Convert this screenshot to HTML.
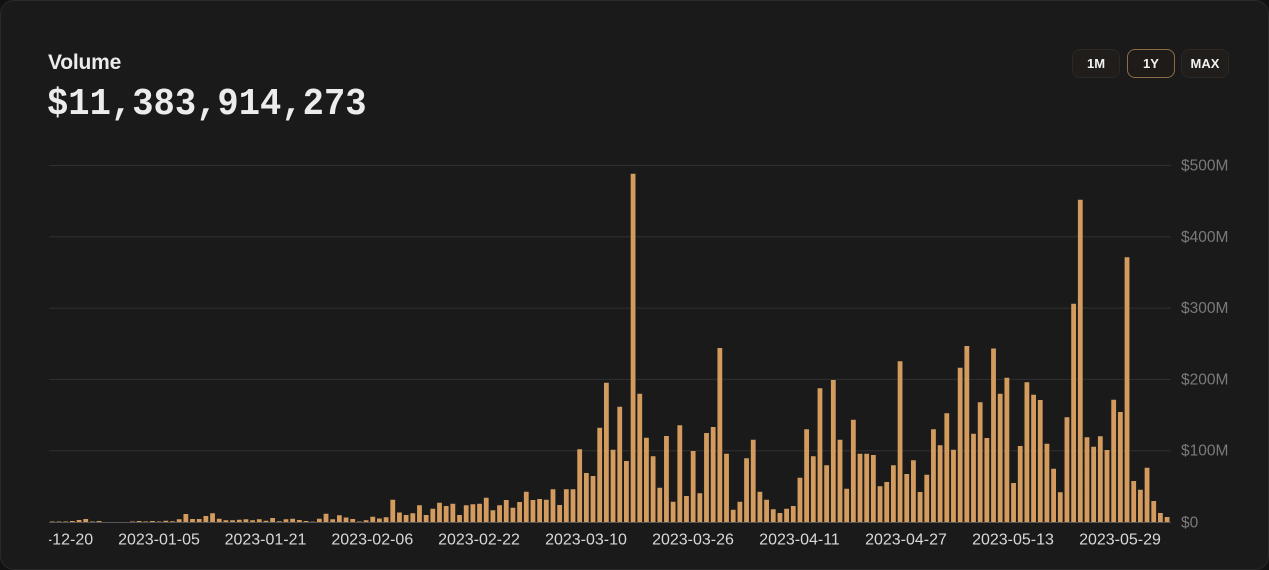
<!DOCTYPE html>
<html>
<head>
<meta charset="utf-8">
<style>
html,body{margin:0;padding:0;background:#121212;}
body{width:1269px;height:570px;overflow:hidden;position:relative;font-family:"Liberation Sans",sans-serif;}
.card{position:absolute;left:0;top:0;width:1267px;height:568px;background:#1a1a1a;border:1px solid #2a2a2a;border-radius:14px;overflow:hidden;}
.title{position:absolute;left:47px;top:48px;font-size:21px;font-weight:bold;color:#ececec;line-height:28px;letter-spacing:-0.2px;}
.value{position:absolute;left:46px;top:84px;font-family:"Liberation Mono",monospace;font-size:35.5px;font-weight:bold;color:#ececec;line-height:42px;transform:scaleY(1.08);transform-origin:left bottom;}
.btn{position:absolute;top:48px;width:46px;height:27px;border:1px solid #2c2824;background:#201d1a;border-radius:8px;color:#f2f2f2;font-size:13px;font-weight:bold;text-align:center;line-height:27px;}
.btn.active{border-color:#8c6d48;background:#1e1b18;}
svg{position:absolute;left:0;top:0;}
</style>
</head>
<body>
<div class="card">
<div class="title">Volume</div>
<div class="value">$11,383,914,273</div>
<div class="btn" style="left:1071px;">1M</div>
<div class="btn active" style="left:1126px;">1Y</div>
<div class="btn" style="left:1180px;">MAX</div>
<svg width="1269" height="570" viewBox="0 0 1269 570">
<defs><clipPath id="xc"><rect x="48" y="525" width="1140" height="40"/></clipPath></defs>
<g stroke="#303030" stroke-width="1">
<line x1="48" y1="164.5" x2="1170" y2="164.5"/>
<line x1="48" y1="235.8" x2="1170" y2="235.8"/>
<line x1="48" y1="307.1" x2="1170" y2="307.1"/>
<line x1="48" y1="378.4" x2="1170" y2="378.4"/>
<line x1="48" y1="449.7" x2="1170" y2="449.7"/>
</g>
<g font-family="Liberation Sans, sans-serif" font-size="15.5" fill="#7a7a7a">
<text x="1180" y="169.5">$500M</text>
<text x="1180" y="240.8">$400M</text>
<text x="1180" y="312.1">$300M</text>
<text x="1180" y="383.4">$200M</text>
<text x="1180" y="454.7">$100M</text>
<text x="1180" y="526.5">$0</text>
</g>
<path fill="#d39c5e" d="M48.95 521
v-.5h4.8v.5m1.875 0 v-.5h4.8v.5m1.875 0 v-.5h4.8v.5m1.875 0 v-1h4.8v1m1.875 0 v-2h4.8v2m1.875 0 v-3h4.8v3m1.875 0 v-.5h4.8v.5m1.875 0 v-1h4.8v1m1.875 0
m26.7 0
v-.5h4.8v.5m1.875 0 v-1h4.8v1m1.875 0 v-.5h4.8v.5m1.875 0 v-1h4.8v1m1.875 0 v-.5h4.8v.5m1.875 0 v-1.3h4.8v1.3m1.875 0 v-.7h4.8v.7m1.875 0 v-2.7h4.8v2.7m1.875 0
v-8h4.8v8m1.875 0 v-3h4.8v3m1.875 0 v-3h4.8v3m1.875 0 v-6h4.8v6m1.875 0 v-8.7h4.8v8.7m1.875 0 v-3.3h4.8v3.3m1.875 0 v-1.7h4.8v1.7m1.875 0 v-1.7h4.8v1.7m1.875 0
v-2.3h4.8v2.3m1.875 0 v-2.7h4.8v2.7m1.875 0 v-1.7h4.8v1.7m1.875 0 v-2.7h4.8v2.7m1.875 0 v-1.3h4.8v1.3m1.875 0 v-4h4.8v4m1.875 0 v-.7h4.8v.7m1.875 0 v-2.7h4.8v2.7m1.875 0
v-3.3h4.8v3.3m1.875 0 v-2h4.8v2m1.875 0 v-1h4.8v1m1.875 0 v-.4h4.8v.4m1.875 0 v-3.3h4.8v3.3m1.875 0 v-8.3h4.8v8.3m1.875 0 v-2.7h4.8v2.7m1.875 0 v-6.7h4.8v6.7m1.875 0
v-4.5h4.8v4.5m1.875 0 v-3h4.8v3m1.875 0 v-.5h4.8v.5m1.875 0 v-1.7h4.8v1.7m1.875 0 v-5.2h4.8v5.2m1.875 0 v-3.5h4.8v3.5m1.875 0 v-4.7h4.8v4.7m1.875 0 v-22.3h4.8v22.3m1.875 0
v-9.5h4.8v9.5m1.875 0 v-7h4.8v7m1.875 0 v-8.8h4.8v8.8m1.875 0 v-16.7h4.8v16.7m1.875 0 v-7h4.8v7m1.875 0 v-13.3h4.8v13.3m1.875 0 v-19.3h4.8v19.3m1.875 0 v-16h4.8v16m1.875 0
v-18.3h4.8v18.3m1.875 0 v-7h4.8v7m1.875 0 v-16.7h4.8v16.7m1.875 0 v-17.7h4.8v17.7m1.875 0 v-18.3h4.8v18.3m1.875 0 v-24.3h4.8v24.3m1.875 0 v-11.7h4.8v11.7m1.875 0 v-16.7h4.8v16.7m1.875 0
v-22h4.8v22m1.875 0 v-14.3h4.8v14.3m1.875 0 v-20h4.8v20m1.875 0 v-30.3h4.8v30.3m1.875 0 v-22h4.8v22m1.875 0 v-23h4.8v23m1.875 0 v-22.2h4.8v22.2m1.875 0 v-32.7h4.8v32.7m1.875 0
v-17h4.8v17m1.875 0 v-32.7h4.8v32.7m1.875 0 v-32.7h4.8v32.7m1.875 0 v-72.7h4.8v72.7m1.875 0 v-49h4.8v49m1.875 0 v-46h4.8v46m1.875 0 v-94.3h4.8v94.3m1.875 0 v-139.3h4.8v139.3m1.875 0
v-72.3h4.8v72.3m1.875 0 v-115.3h4.8v115.3m1.875 0 v-61h4.8v61m1.875 0 v-348.3h4.8v348.3m1.875 0 v-128.3h4.8v128.3m1.875 0 v-84.3h4.8v84.3m1.875 0 v-65.7h4.8v65.7m1.875 0 v-34.3h4.8v34.3m1.875 0
v-86h4.8v86m1.875 0 v-20.3h4.8v20.3m1.875 0 v-96.7h4.8v96.7m1.875 0 v-26h4.8v26m1.875 0 v-71h4.8v71m1.875 0 v-28.7h4.8v28.7m1.875 0 v-89h4.8v89m1.875 0 v-95h4.8v95m1.875 0
v-174h4.8v174m1.875 0 v-68.3h4.8v68.3m1.875 0 v-12.3h4.8v12.3m1.875 0 v-20.3h4.8v20.3m1.875 0 v-63.7h4.8v63.7m1.875 0 v-82.3h4.8v82.3m1.875 0 v-30.3h4.8v30.3m1.875 0 v-22.3h4.8v22.3m1.875 0
v-12.7h4.8v12.7m1.875 0 v-9h4.8v9m1.875 0 v-13.3h4.8v13.3m1.875 0 v-16h4.8v16m1.875 0 v-44.2h4.8v44.2m1.875 0 v-92.7h4.8v92.7m1.875 0 v-65.7h4.8v65.7m1.875 0 v-133.7h4.8v133.7m1.875 0
v-56.7h4.8v56.7m1.875 0 v-142h4.8v142m1.875 0 v-82.3h4.8v82.3m1.875 0 v-33.3h4.8v33.3m1.875 0 v-102.3h4.8v102.3m1.875 0 v-68.3h4.8v68.3m1.875 0 v-68.3h4.8v68.3m1.875 0 v-67h4.8v67m1.875 0
v-35.7h4.8v35.7m1.875 0 v-40h4.8v40m1.875 0 v-56.7h4.8v56.7m1.875 0 v-160.7h4.8v160.7m1.875 0 v-48h4.8v48m1.875 0 v-61.7h4.8v61.7m1.875 0 v-30h4.8v30m1.875 0 v-47.3h4.8v47.3m1.875 0
v-92.7h4.8v92.7m1.875 0 v-76.7h4.8v76.7m1.875 0 v-108.7h4.8v108.7m1.875 0 v-72.3h4.8v72.3m1.875 0 v-154.3h4.8v154.3m1.875 0 v-176h4.8v176m1.875 0 v-88.3h4.8v88.3m1.875 0 v-119.7h4.8v119.7m1.875 0
v-84h4.8v84m1.875 0 v-173.5h4.8v173.5m1.875 0 v-128.3h4.8v128.3m1.875 0 v-144.3h4.8v144.3m1.875 0 v-39h4.8v39m1.875 0 v-76h4.8v76m1.875 0 v-139.7h4.8v139.7m1.875 0 v-127.3h4.8v127.3m1.875 0
v-122h4.8v122m1.875 0 v-78.3h4.8v78.3m1.875 0 v-53.3h4.8v53.3m1.875 0 v-29.7h4.8v29.7m1.875 0 v-104.7h4.8v104.7m1.875 0 v-218.3h4.8v218.3m1.875 0 v-322.3h4.8v322.3m1.875 0 v-84.7h4.8v84.7m1.875 0
v-75.3h4.8v75.3m1.875 0 v-85.7h4.8v85.7m1.875 0 v-72h4.8v72m1.875 0 v-122.3h4.8v122.3m1.875 0 v-110h4.8v110m1.875 0 v-264.7h4.8v264.7m1.875 0 v-41h4.8v41m1.875 0 v-32.3h4.8v32.3m1.875 0
v-54.3h4.8v54.3m1.875 0 v-21h4.8v21m1.875 0 v-9h4.8v9m1.875 0 v-5h4.8v5z"/>
<line x1="48" y1="521.5" x2="1170" y2="521.5" stroke="#555555" stroke-width="1"/>
<g font-family="Liberation Sans, sans-serif" font-size="16" fill="#d8d8d8" text-anchor="middle" clip-path="url(#xc)">
<text x="51.2" y="543.5">2022-12-20</text>
<text x="158" y="543.5">2023-01-05</text>
<text x="264.5" y="543.5">2023-01-21</text>
<text x="371.3" y="543.5">2023-02-06</text>
<text x="478" y="543.5">2023-02-22</text>
<text x="585" y="543.5">2023-03-10</text>
<text x="692" y="543.5">2023-03-26</text>
<text x="798.5" y="543.5">2023-04-11</text>
<text x="905" y="543.5">2023-04-27</text>
<text x="1012" y="543.5">2023-05-13</text>
<text x="1119" y="543.5">2023-05-29</text>
</g>
</svg>
</div>
</body>
</html>
